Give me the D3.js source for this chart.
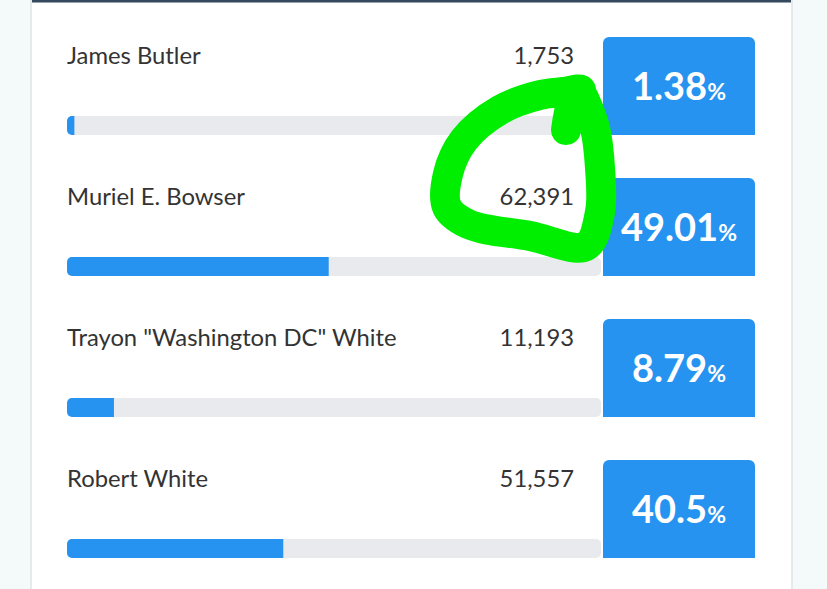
<!DOCTYPE html>
<html>
<head>
<meta charset="utf-8">
<script src="https://cdn.jsdelivr.net/npm/d3@7"></script>
<style>
  html, body { margin: 0; padding: 0; background: #f4f9fa; }
  svg { display: block; }
</style>
</head>
<body>
<svg id="chart"></svg>
<script>
// Candidates, vote counts and vote share (%)
const candidates = ["James Butler", "Muriel E. Bowser", "Trayon \"Washington DC\" White", "Robert White"];
const votes = [1753, 62391, 11193, 51557];
const shares = [1.38, 49.01, 8.79, 40.5];

// hand drawn green loop around the 62,391 figure
const scribble = [
  [566, 130], [572, 102], [581, 90], [564, 92], [540, 95], [500, 110], [464, 140],
  [448, 174], [447, 207], [468, 224], [530, 236], [586, 246], [600, 212],
  [600, 168], [595, 128], [584, 98]
];

const width = 827, height = 589;
const card = { left: 31, right: 792 };
const rowTop = 37, rowStep = 141;

const svg = d3.select("#chart")
    .attr("width", width)
    .attr("height", height);

// card background
svg.append("rect")
    .attr("x", card.left)
    .attr("y", -2)
    .attr("width", card.right - card.left)
    .attr("height", height + 4)
    .attr("fill", "#fff")
    .attr("stroke", "#dfe3e6")
    .attr("stroke-width", 1.5);

svg.append("rect")
    .attr("x", card.left + 1)
    .attr("y", 0)
    .attr("width", card.right - card.left - 2)
    .attr("height", 2.5)
    .attr("fill", "#34495e");

// scales
const x = d3.scaleLinear().domain([0, 100]).range([67, 601]);
const y = d3.scaleBand()
    .domain(candidates)
    .range([rowTop, rowTop + rowStep * candidates.length])
    .paddingInner(0);

const rows = svg.selectAll(".row")
    .data(candidates.map((c, i) => ({ name: c, votes: votes[i], share: shares[i] })))
    .enter()
    .append("g")
    .attr("class", "row")
    .attr("transform", d => `translate(0,${y(d.name)})`);

// name + vote count
rows.append("text")
    .attr("x", 67)
    .attr("y", 27)
    .style("font-family", "Lato, sans-serif")
    .style("font-size", "23.8px")
    .style("fill", "#333")
    .text(d => d.name);

rows.append("text")
    .attr("x", 574)
    .attr("y", 27)
    .attr("text-anchor", "end")
    .style("font-family", "Lato, sans-serif")
    .style("font-size", "23.8px")
    .style("fill", "#333")
    .text(d => d3.format(",")(d.votes));

// progress track and fill
const barY = 79, barH = 19;

rows.append("rect")
    .attr("x", x(0))
    .attr("y", barY)
    .attr("width", x(100) - x(0))
    .attr("height", barH)
    .attr("rx", 5)
    .attr("fill", "#e8eaed");

rows.append("path")
    .attr("fill", "#2693f0")
    .attr("d", d => {
        const x0 = x(0), x1 = x(d.share), r = Math.min(5, (x1 - x0));
        return `M${x0 + r},${barY} L${x1},${barY} L${x1},${barY + barH} L${x0 + r},${barY + barH}` +
               ` A${r},${r} 0 0 1 ${x0},${barY + barH - r} L${x0},${barY + r} A${r},${r} 0 0 1 ${x0 + r},${barY} Z`;
    });

// percentage box
const boxX = 603, boxW = 152, boxH = 98, br = 6;
rows.append("path")
    .attr("fill", "#2693f0")
    .attr("d", `M${boxX},${boxH} L${boxX},${br} A${br},${br} 0 0 1 ${boxX + br},0 L${boxX + boxW - br},0` +
               ` A${br},${br} 0 0 1 ${boxX + boxW},${br} L${boxX + boxW},${boxH} Z`);

const pct = rows.append("text")
    .attr("x", boxX + boxW / 2)
    .attr("y", 63)
    .attr("text-anchor", "middle")
    .style("font-family", "Lato, sans-serif")
    .style("font-weight", "bold")
    .style("fill", "#fff");

pct.append("tspan")
    .style("font-size", "38px")
    .text(d => d.share);
pct.append("tspan")
    .style("font-size", "23px")
    .text("%");

// annotation
svg.append("path")
    .attr("d", d3.line().curve(d3.curveCatmullRom.alpha(0.5))(scribble))
    .attr("fill", "none")
    .attr("stroke", "#00ee00")
    .attr("stroke-width", 30)
    .attr("stroke-linecap", "round")
    .attr("stroke-linejoin", "round");
</script>
</body>
</html>
